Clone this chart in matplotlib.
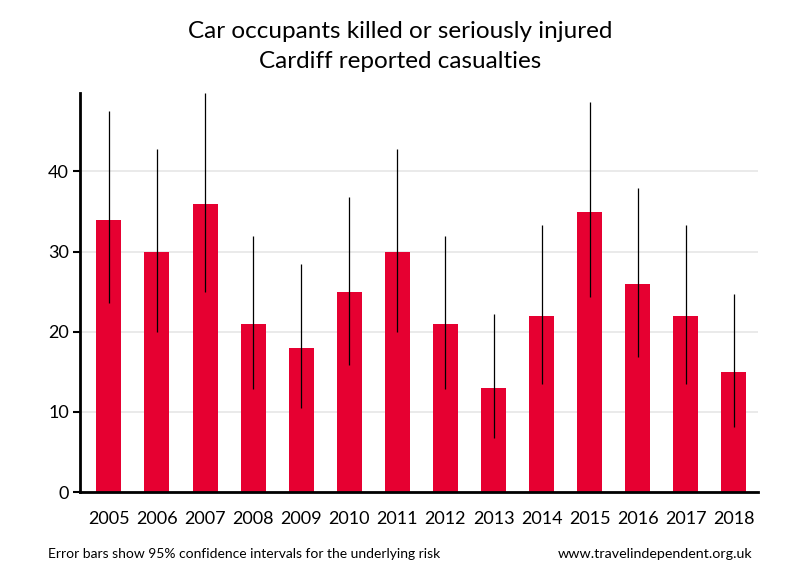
import matplotlib
matplotlib.use("Agg")
import matplotlib.pyplot as plt
import numpy as np

years = ["2005", "2006", "2007", "2008", "2009", "2010", "2011", "2012", "2013", "2014", "2015", "2016", "2017", "2018"]
values = [34, 30, 36, 21, 18, 25, 30, 21, 13, 22, 35, 26, 22, 15]
ci_low = [23.6, 20.0, 25.0, 12.8, 10.5, 15.9, 20.0, 12.8, 6.8, 13.5, 24.3, 16.9, 13.5, 8.1]
ci_high = [47.5, 42.8, 49.8, 32.0, 28.4, 36.8, 42.8, 32.0, 22.2, 33.3, 48.7, 38.0, 33.3, 24.7]

plt.rcParams['font.family'] = ['Lato', 'DejaVu Sans']

fig = plt.figure(figsize=(8, 5.8), dpi=100)
ax = fig.add_axes([0.1, 0.1517, 0.8475, 0.688])

x = np.arange(len(years))
ax.bar(x, values, width=0.52, color='#e60031', zorder=2)
lo = np.array(values) - np.array(ci_low)
hi = np.array(ci_high) - np.array(values)
ax.errorbar(x, values, yerr=[lo, hi], fmt='none', ecolor='black', elinewidth=0.9, capsize=0, zorder=3)

ax.set_xlim(-0.6, 13.5)
ax.set_ylim(0, 49.8)
ax.set_yticks([0, 10, 20, 30, 40])
ax.set_xticks(x)
ax.set_xticklabels(years, fontsize=13)
ax.tick_params(axis='x', length=0, pad=14)
ax.tick_params(axis='y', length=5, width=1.5, labelsize=13, pad=3)
ax.yaxis.grid(True, color='#e6e6e6', linewidth=1.2, zorder=0)
ax.set_axisbelow(True)
for s in ['top', 'right']:
    ax.spines[s].set_visible(False)
ax.spines['left'].set_linewidth(2)
ax.spines['bottom'].set_linewidth(2)

fig.text(0.5, 0.945, "Car occupants killed or seriously injured", ha='center', va='center', fontsize=17.5)
fig.text(0.5, 0.894, "Cardiff reported casualties", ha='center', va='center', fontsize=17.5)
fig.text(0.06, 0.045, "Error bars show 95% confidence intervals for the underlying risk", ha='left', va='center', fontsize=10)
fig.text(0.94, 0.045, "www.travelindependent.org.uk", ha='right', va='center', fontsize=10.3)

fig.savefig("out.png", dpi=100)
